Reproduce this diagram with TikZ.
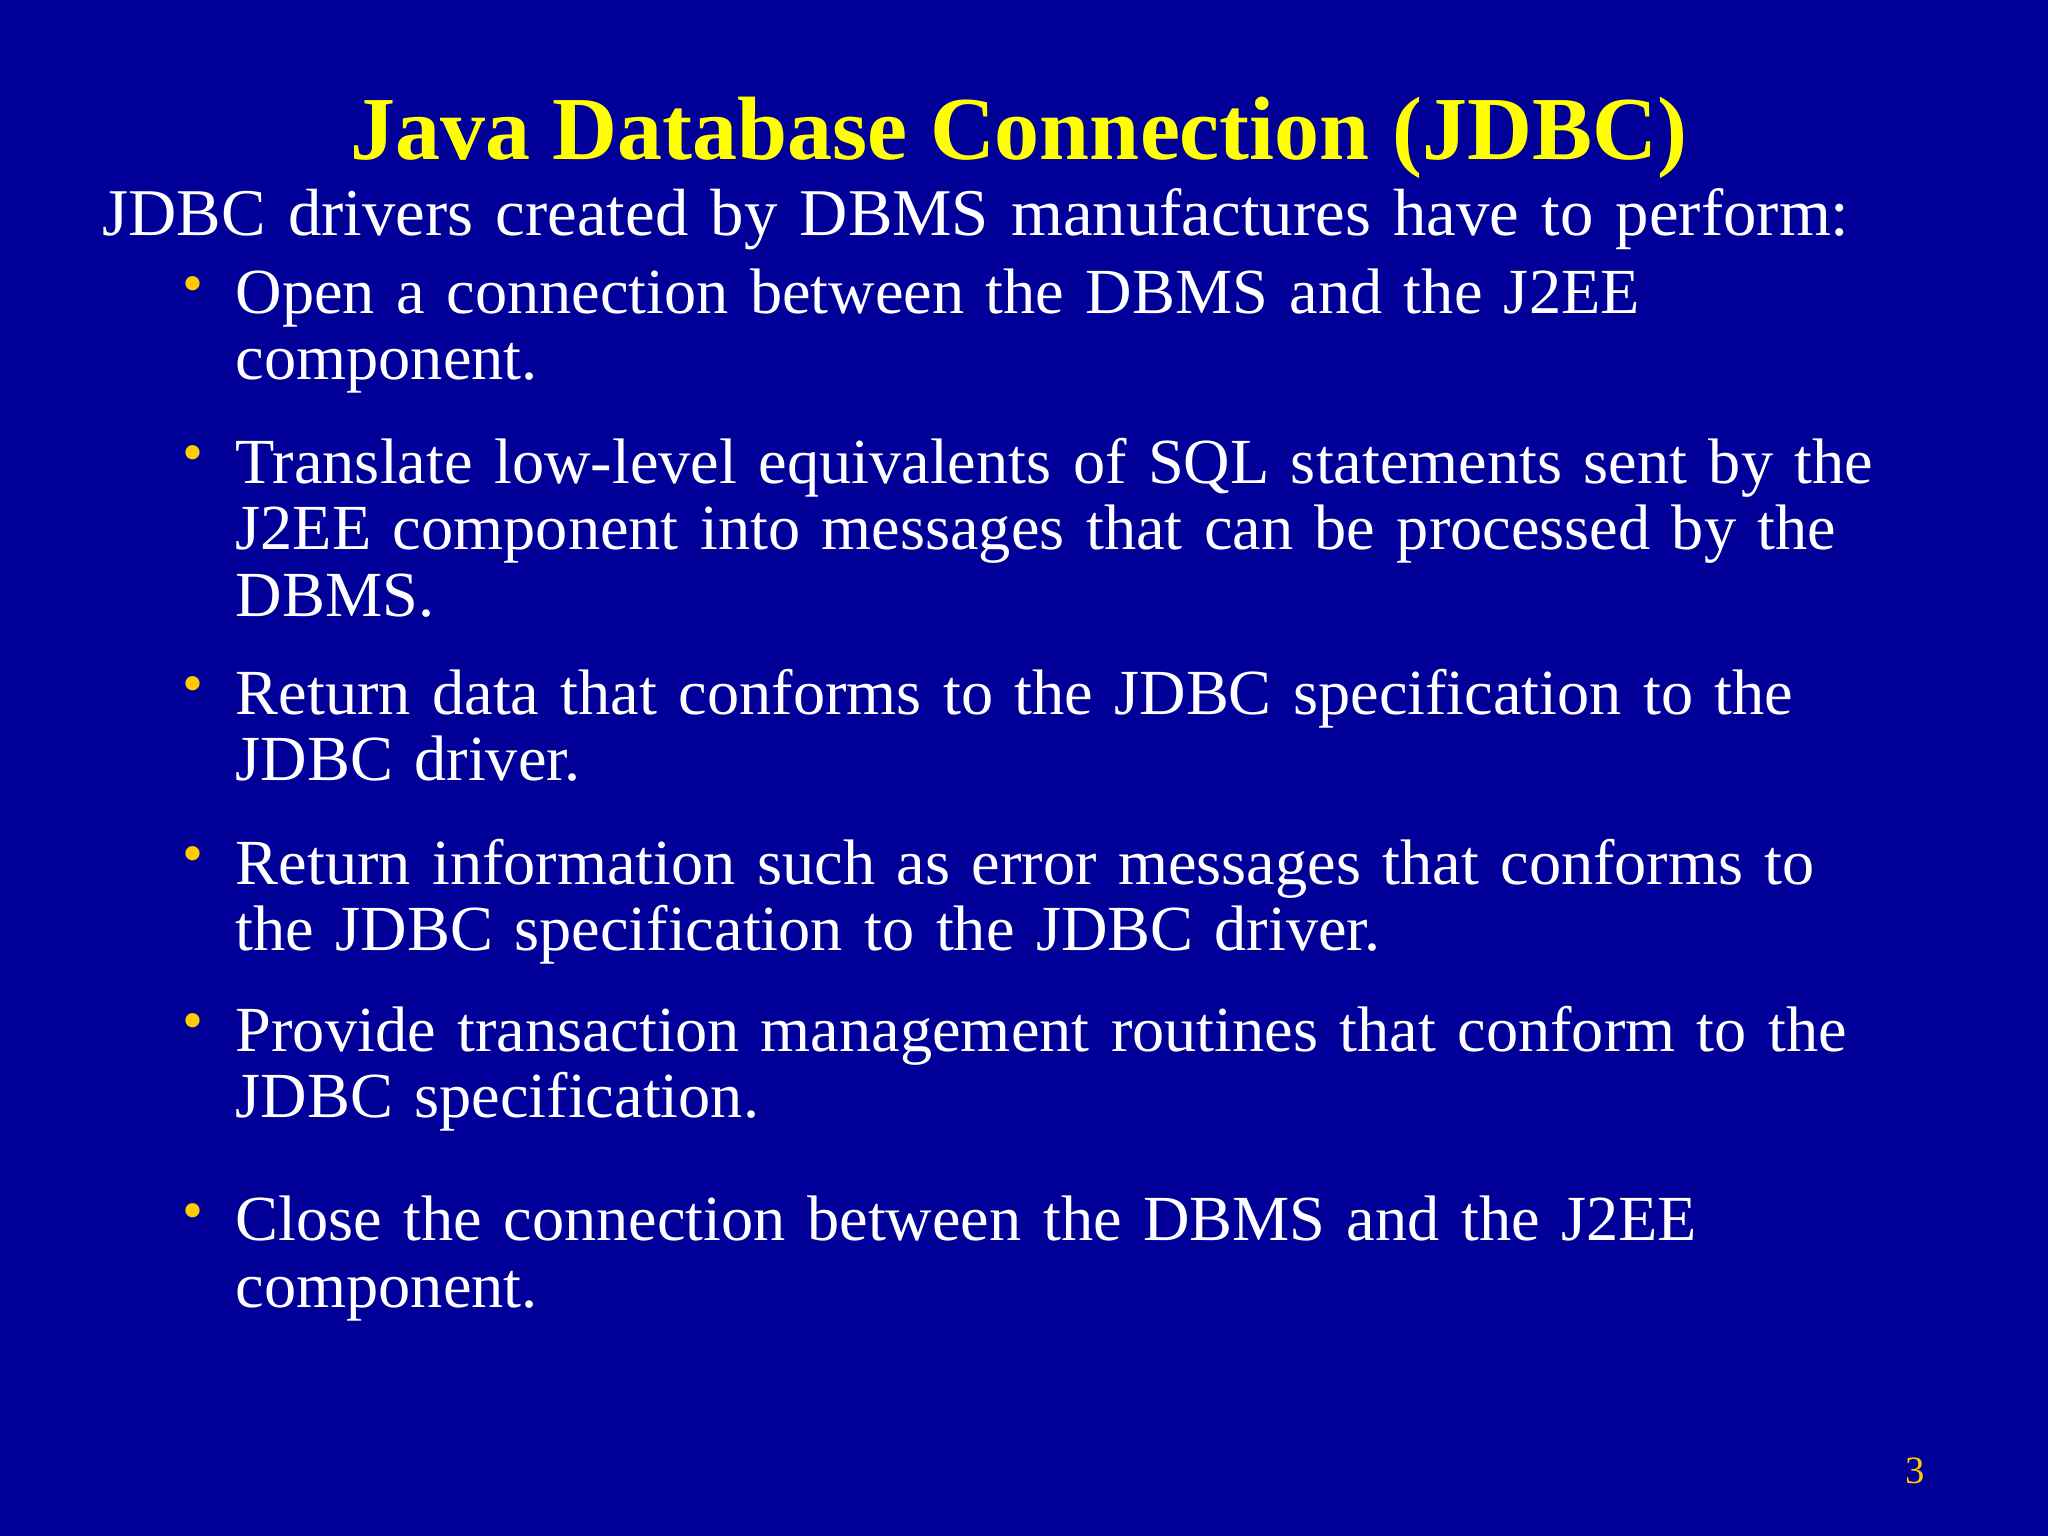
\documentclass[tikz,border=0pt]{standalone}
\usepackage{fontspec}
\setmainfont{Liberation Serif}
\definecolor{bg}{HTML}{000099}
\definecolor{ttl}{HTML}{FFFF00}
\definecolor{bul}{HTML}{FFCC00}
\begin{document}
\begin{tikzpicture}[x=0.013061cm,y=-0.013061cm,
  body/.style={anchor=base west,inner sep=0pt,text=white,font=\fontsize{18.3pt}{18.9pt}\selectfont,align=left,text width=1500*0.013061cm},
  dot/.style={anchor=base,inner sep=0pt,text=bul,font=\fontsize{17pt}{17pt}\selectfont}]
\fill[bg] (0,0) rectangle (1568,1176);
\useasboundingbox (0,0) rectangle (1568,1176);
\node[anchor=base,inner sep=0pt,text=ttl,font=\fontsize{25.6pt}{25.6pt}\selectfont\bfseries] (title) at (780,122) {Java Database Connection (JDBC)};
\node[body,font=\fontsize{19pt}{18.9pt}\selectfont] (intro) at (78,180) {JDBC drivers created by DBMS manufactures have to perform:};
\foreach \y/\t [count=\i] in {
 240/{Open a connection between the DBMS and the J2EE\\component.},
 370/{Translate low-level equivalents of SQL statements sent by the\\J2EE component into messages that can be processed by the\\DBMS.},
 547/{Return data that conforms to the JDBC specification to the\\JDBC driver.},
 677/{Return information such as error messages that conforms to\\the JDBC specification to the JDBC driver.},
 805/{Provide transaction management routines that conform to the\\JDBC specification.},
 950/{Close the connection between the DBMS and the J2EE\\component.}}{
 \node[body] (b\i) at (180,\y) {\t};
 \node[dot] (d\i) at (148,\y-8) {•};
}
\node[anchor=base,inner sep=0pt,text=bul,font=\fontsize{11pt}{11pt}\selectfont] (pg) at (1466,1136) {3};
\end{tikzpicture}
\end{document}
